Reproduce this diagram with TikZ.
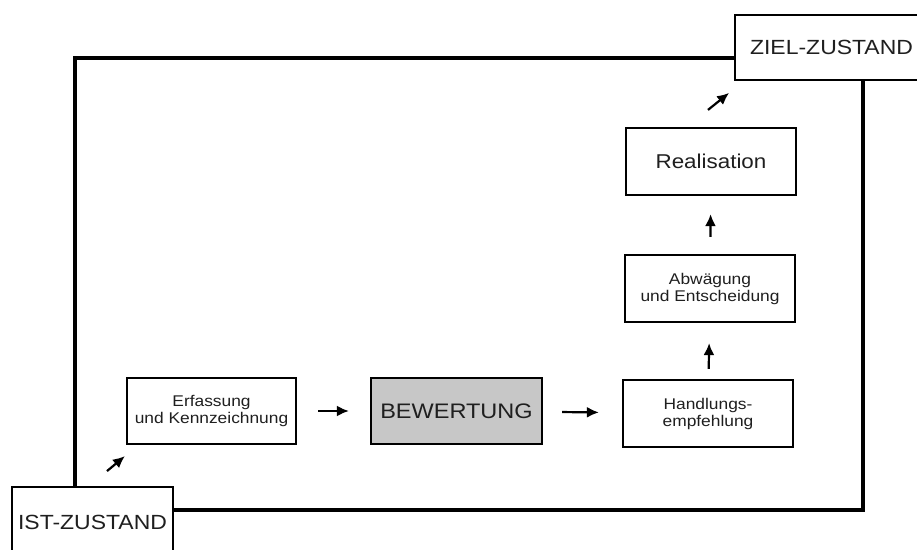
\documentclass[tikz,border=0pt]{standalone}
\usepackage{fontspec}
\setmainfont{Liberation Sans}[FakeStretch=1.12]
\usetikzlibrary{arrows.meta}

\begin{document}
\begin{tikzpicture}[x=1pt, y=1pt,
    kasten/.style={draw, line width=2.2pt, minimum width=170pt, minimum height=67pt,
        inner sep=0pt, align=center, text=black!88, font=\fontsize{15.5}{17}\selectfont},
    zustand/.style={draw, line width=1.8pt, inner sep=0pt, text=black!88,
        font=\fontsize{20.5}{24}\selectfont},
    pfeil/.style={-{Latex[length=12pt,width=11pt]}, line width=2.2pt},
    rahmen/.style={line width=4.5pt, line join=miter}]
    \useasboundingbox (0,0) rectangle (917,549);
    \clip (0,0) rectangle (917,549);
    \fill[white] (0,0) rectangle (917,549);

    \node[zustand, minimum width=161pt, minimum height=70pt] (ist) at (92.5,27) {IST-ZUSTAND};
    \node[zustand, minimum width=193pt, minimum height=65pt] (ziel) at (831.5,501.5) {ZIEL-ZUSTAND};

    \node[kasten, minimum width=169pt, minimum height=66pt] (erf) at (211.5,138) {Erfassung\\und Kennzeichnung};
    \node[kasten, minimum width=171pt, minimum height=66pt, fill=black!22,
        font=\fontsize{21}{24}\selectfont] (bew) at (456.5,138) {BEWERTUNG};
    \node[kasten] (hand) at (708,135.5) {Handlungs-\\empfehlung};
    \node[kasten] (abw) at (710,260.5) {Abwägung\\und Entscheidung};
    \node[kasten, font=\fontsize{20}{24}\selectfont] (real) at (711,387.5) {Realisation};

    \coordinate (oben) at (75,491);
    \coordinate (unten) at (863,39);
    \draw[rahmen] (ist.north -| oben) -- (oben) -- (oben -| ziel.west);
    \draw[rahmen] (ziel.south -| unten) -- (unten) -- (unten -| ist.east);

    \draw[pfeil] ([shift={(14.5,15)}]ist.north) -- ([shift={(-1,-11)}]erf.south west);
    \draw[pfeil, shorten <=21pt, shorten >=21pt] (erf) -- (bew);
    \draw[pfeil, shorten <=19pt, shorten >=23pt] (bew) -- (hand);
    \draw[pfeil, shorten <=10pt, shorten >=20pt] (hand) -- (abw);
    \draw[pfeil, shorten <=17pt, shorten >=18pt] (abw) -- (real);
    \draw[pfeil] ([shift={(-3,17)}]real.north) -- ([shift={(-5,-12)}]ziel.south west);
\end{tikzpicture}
\end{document}
